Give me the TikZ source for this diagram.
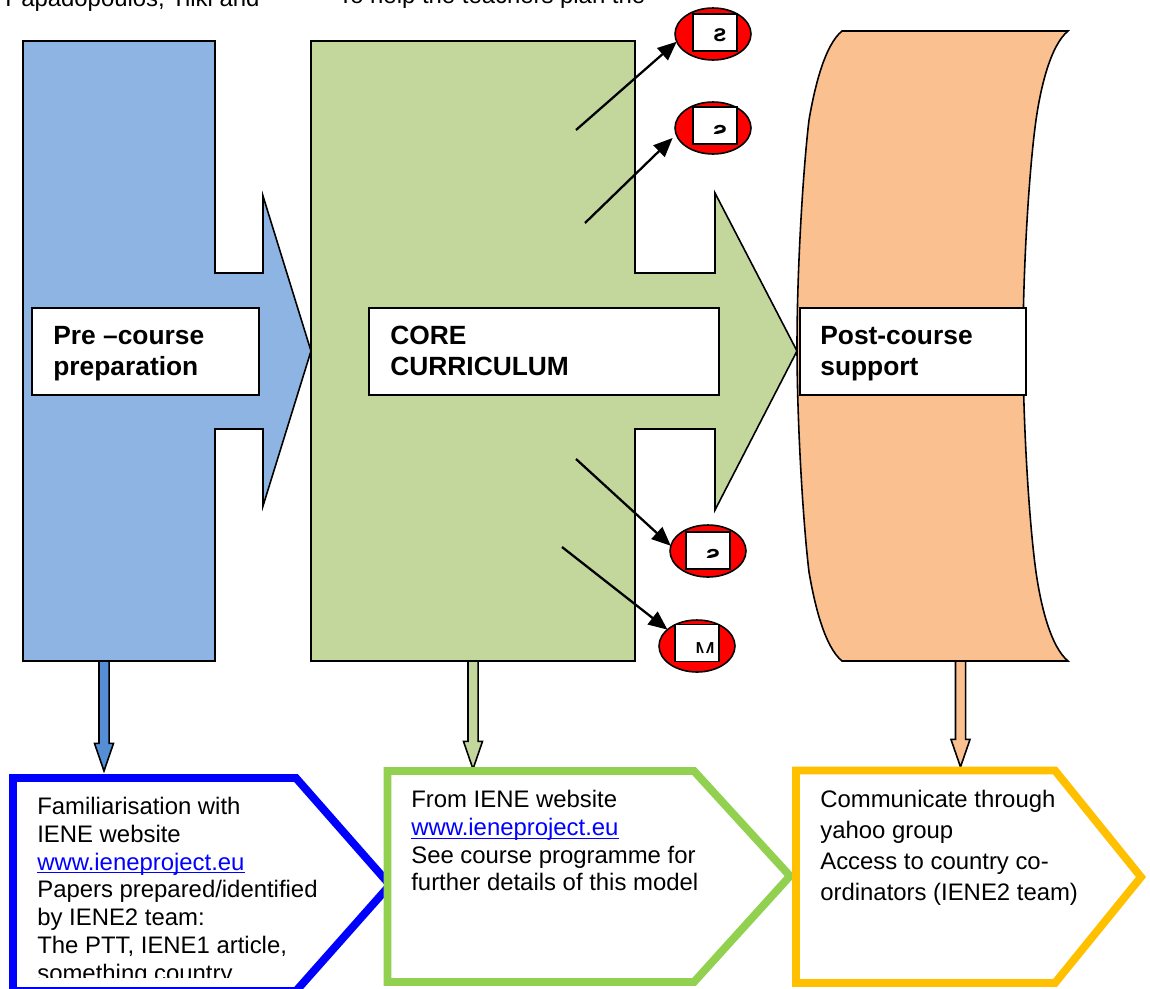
\documentclass[tikz,border=0pt]{standalone}
\usepackage{fontspec}
\usepackage{graphicx}
\usepackage{tikz}
\setmainfont{Liberation Sans}
\usetikzlibrary{shapes.geometric,shapes.arrows,arrows.meta}
\definecolor{preblue}{HTML}{8EB4E3}
\definecolor{prearrow}{HTML}{558ED5}
\definecolor{coregreen}{HTML}{C3D69B}
\definecolor{postorange}{HTML}{FAC090}
\definecolor{boxgreen}{HTML}{92D050}
\definecolor{boxyellow}{HTML}{FFC000}
\definecolor{linkblue}{HTML}{0000FF}
\tikzset{
	block/.style={draw=black, line width=0.9pt, line join=miter},
	labelbox/.style={draw=black, fill=white, line width=0.9pt, minimum height=1.74cm, inner sep=0pt, outer sep=0pt},
	labeltext/.style={anchor=north west, inner sep=0pt, align=left, font=\fontsize{15}{17.6}\selectfont\bfseries},
	bodytext/.style={anchor=north west, inner sep=0pt, align=left, font=\fontsize{13.6}{15.8}\selectfont},
	pentabox/.style={fill=white, line width=4.5pt, line join=miter},
	downarrow/.style={single arrow, draw=black, line width=0.9pt, rotate=-90, anchor=tip, inner xsep=0pt, inner ysep=0.085cm, outer sep=0pt,
		minimum width=0.35cm, single arrow head extend=0.09cm, single arrow tip angle=38, single arrow head indent=0pt},
	redspot/.style={ellipse, draw=black, fill=red, line width=0.9pt, minimum width=1.52cm, minimum height=1.04cm, inner sep=0pt, outer sep=0pt},
	spotbox/.style={draw=black, fill=white, line width=0.9pt, minimum width=0.88cm, minimum height=0.74cm, inner sep=0pt, outer sep=0pt},
	spottext/.style={inner sep=0pt, font=\fontsize{13.6}{15}\selectfont\bfseries},
	outarrow/.style={line width=1.3pt, -{Triangle[length=0.38cm,width=0.32cm]}}
}
\newcommand{\ieneurl}{\textcolor{linkblue}{\underline{\smash{www.ieneproject.eu}}}}
\begin{document}
\begin{tikzpicture}[x=0.02cm, y=-0.02cm]
	\useasboundingbox (0,0) rectangle (1150,988);

	\node[bodytext] (noteleft) at (5,-11) {Papadopoulos, Tilki and};
	\node[bodytext] (noteright) at (338,-14) {To help the teachers plan the};

	\draw[block, fill=preblue] (23,41) -- (215,41) -- (215,273) -- (263,273) -- (263,196) -- (311,351) -- (263,506) -- (263,429) -- (215,429) -- (215,661) -- (23,661) -- cycle;
	\draw[block, fill=coregreen] (311,41) -- (635,41) -- (635,273) -- (715,273) -- (715,193) -- (797,351) -- (715,510) -- (715,429) -- (635,429) -- (635,661) -- (311,661) -- cycle;
	\draw[block, fill=postorange] (842,31) -- (1068,31) .. controls (1051,45) and (1041,85) .. (1036,120) .. controls (1029,170) and (1023,270) .. (1023,346) .. controls (1023,422) and (1029,522) .. (1036,572) .. controls (1041,607) and (1051,647) .. (1068,661) -- (842,661) .. controls (825,647) and (815,607) .. (809,572) .. controls (803,522) and (797,422) .. (797,346) .. controls (797,270) and (803,170) .. (809,120) .. controls (815,85) and (825,45) .. (842,31) -- cycle;

	\node[labelbox, minimum width=4.54cm] (prebox) at (145.5,351.5) {};
	\node[labelbox, minimum width=7cm] (corebox) at (544,351.5) {};
	\node[labelbox, minimum width=4.52cm] (postbox) at (913,351.5) {};
	\node[labeltext] (pretext) at (53,326) {Pre --course\\preparation};
	\node[labeltext] (coretext) at (390,326) {CORE\\CURRICULUM};
	\node[labeltext] (posttext) at (820,326) {Post-course\\support};

	\node[downarrow, fill=prearrow, minimum height=2.2cm] (prearrowdown) at (104,771) {};
	\node[downarrow, fill=coregreen, minimum height=2.16cm] (corearrowdown) at (473,769) {};
	\node[downarrow, fill=postorange, minimum height=2.12cm] (postarrowdown) at (960.5,767) {};

	\draw[pentabox, draw=linkblue] (13,778) -- (296,778) -- (390,885) -- (296,991) -- (13,991) -- cycle;
	\draw[pentabox, draw=boxgreen] (387.5,771) -- (694,771) -- (790,876) -- (694,982) -- (387.5,982) -- cycle;
	\draw[pentabox, draw=boxyellow] (796,770.5) -- (1055,770.5) -- (1141,877) -- (1055,983) -- (796,983) -- cycle;

	\begin{scope}
		\clip (30,790) rectangle (330,977);
		\node[bodytext] (pretail) at (37,797) {Familiarisation with\\IENE website\\\ieneurl\\Papers prepared/identified\\by IENE2 team:\\The PTT, IENE1 article,\\something country};
	\end{scope}
	\node[bodytext] (coretail) at (411,790) {From IENE website\\\ieneurl\\See course programme for\\further details of this model};
	\node[bodytext, font=\fontsize{13.6}{17.6}\selectfont] (posttail) at (820,790) {Communicate through\\yahoo group\\Access to country co-\\ordinators (IENE2 team)};

	\node[redspot] (spotone) at (713,34) {};
	\node[redspot] (spottwo) at (713,128) {};
	\node[redspot] (spotthree) at (708,551) {};
	\node[redspot] (spotfour) at (697,646) {};
	\node[spotbox] (boxone) at (715,32.5) {};
	\node[spotbox] (boxtwo) at (715,125.5) {};
	\node[spotbox] (boxthree) at (708,550.5) {};
	\node[spotbox] (boxfour) at (697,643) {};
	\begin{scope}
		\clip (694,15) rectangle (736,50);
		\node[spottext] (sone) at (720,35) {\reflectbox{s}};
	\end{scope}
	\begin{scope}
		\clip (694,108) rectangle (736,133);
		\node[spottext, font=\fontsize{15}{16}\selectfont\bfseries] (stwo) at (720,133) {\reflectbox{s}};
	\end{scope}
	\begin{scope}
		\clip (687,533) rectangle (729,557);
		\node[spottext, font=\fontsize{15}{16}\selectfont\bfseries] (sthree) at (713,557) {\reflectbox{s}};
	\end{scope}
	\begin{scope}
		\clip (676,625) rectangle (718,652);
		\node[spottext, font=\fontsize{14}{15}\selectfont] (mfour) at (705,651) {\reflectbox{M}};
	\end{scope}

	\coordinate (startone) at (576,130);
	\coordinate (starttwo) at (585,223);
	\coordinate (startthree) at (576,459);
	\coordinate (startfour) at (562,547);
	\draw[outarrow] (startone) -- (spotone.192);
	\draw[outarrow, shorten >=5*0.02cm] (starttwo) -- (spottwo.190);
	\draw[outarrow] (startthree) -- (spotthree.172);
	\draw[outarrow] (startfour) -- (spotfour.151);
\end{tikzpicture}
\end{document}
